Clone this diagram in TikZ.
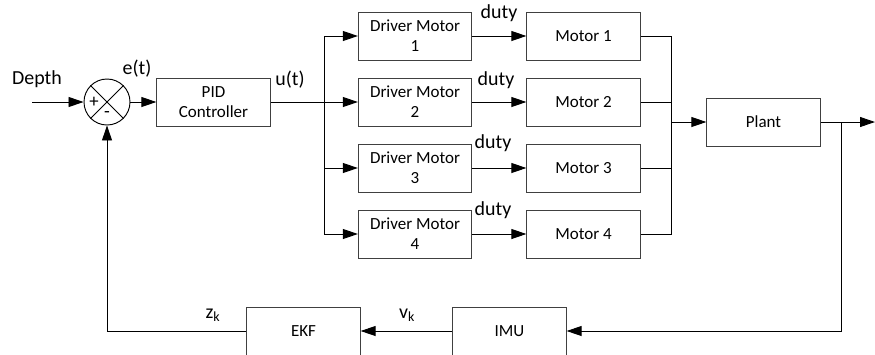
\documentclass[tikz,border=0pt]{standalone}
\usepackage{fontspec}
\setmainfont{Carlito}
\usepackage{tikz}
\usetikzlibrary{arrows.meta, calc}

\begin{document}
\begin{tikzpicture}[x=0.03cm, y=-0.03cm, line width=0.8pt, >={Triangle[length=0.45cm, width=0.3cm]},
    block/.style={draw=black!75, rectangle, minimum width=3.4cm, minimum height=1.44cm, align=center, font=\fontsize{14.5}{17}\selectfont, inner sep=1pt},
    lbl/.style={font=\fontsize{17}{20}\selectfont, inner sep=0pt}]
    \useasboundingbox (0,0) rectangle (875,354);

    % Summing junction and controller
    \node[draw, circle, minimum size=1.38cm, inner sep=0pt] (sum) at (107,102) {};
    \draw (sum.45) -- (sum.225);
    \draw (sum.135) -- (sum.315);
    \node[font=\fontsize{16}{18}\selectfont, inner sep=0pt] (plus) at (94,102) {+};
    \node[font=\fontsize{16}{18}\selectfont, inner sep=0pt] (minus) at (107,115) {-};
    \node[block] (pid) at (213.5,102) {PID\\Controller};

    % Driver column (x=415)
    \node[block] (drv1) at (415,36) {Driver Motor\\1};
    \node[block] (drv2) at (415,102) {Driver Motor\\2};
    \node[block] (drv3) at (415,168) {Driver Motor\\3};
    \node[block] (drv4) at (415,234) {Driver Motor\\4};

    % Motor column (x=583.5)
    \node[block] (mot1) at (583.5,36) {Motor 1};
    \node[block] (mot2) at (583.5,102) {Motor 2};
    \node[block] (mot3) at (583.5,168) {Motor 3};
    \node[block] (mot4) at (583.5,234) {Motor 4};

    % Plant and feedback path
    \node[block] (plant) at (763.5,122) {Plant};
    \node[block] (imu) at (509.5,331) {IMU};
    \node[block] (ekf) at (303.5,331) {EKF};

    % Labels
    \node[lbl] (depth) at (37,79) {Depth};
    \node[lbl] (et) at (137,69) {e(t)};
    \node[lbl] (ut) at (290,80) {u(t)};
    \node[lbl] (duty1) at (499,13) {duty};
    \node[lbl] (duty2) at (496,80) {duty};
    \node[lbl] (duty3) at (493,143) {duty};
    \node[lbl] (duty4) at (493,210) {duty};
    \node[lbl] (zk) at (213,315) {z\textsubscript{k}};
    \node[lbl] (vk) at (407,315) {v\textsubscript{k}};

    % Coordinates
    \coordinate (in) at (32,102);
    \coordinate (split) at (324,102);
    \coordinate (merge) at (671,122);
    \coordinate (tap) at (841,122);
    \coordinate (out) at (875,122);

    % Forward path
    \draw[->] (in) -- (sum);
    \draw[->] (sum) -- (pid);
    \draw (pid) -- (split);
    \draw (split |- drv1) -- (split |- drv4);
    \draw[->] (split |- drv1) -- (drv1);
    \draw[->] (split |- drv2) -- (drv2);
    \draw[->] (split |- drv3) -- (drv3);
    \draw[->] (split |- drv4) -- (drv4);

    % Driver to motor
    \draw[->] (drv1) -- (mot1);
    \draw[->] (drv2) -- (mot2);
    \draw[->] (drv3) -- (mot3);
    \draw[->] (drv4) -- (mot4);

    % Motors to plant
    \draw (mot1.east) -- (merge |- mot1) -- (merge |- mot4) -- (mot4.east);
    \draw (mot2.east) -- (merge |- mot2);
    \draw (mot3.east) -- (merge |- mot3);
    \draw[->] (merge) -- (plant);
    \draw[->] (plant) -- (out);

    % Feedback
    \draw[->] (tap) |- (imu);
    \draw[->] (imu) -- (ekf);
    \draw[->] (ekf) -| (sum);
\end{tikzpicture}
\end{document}
